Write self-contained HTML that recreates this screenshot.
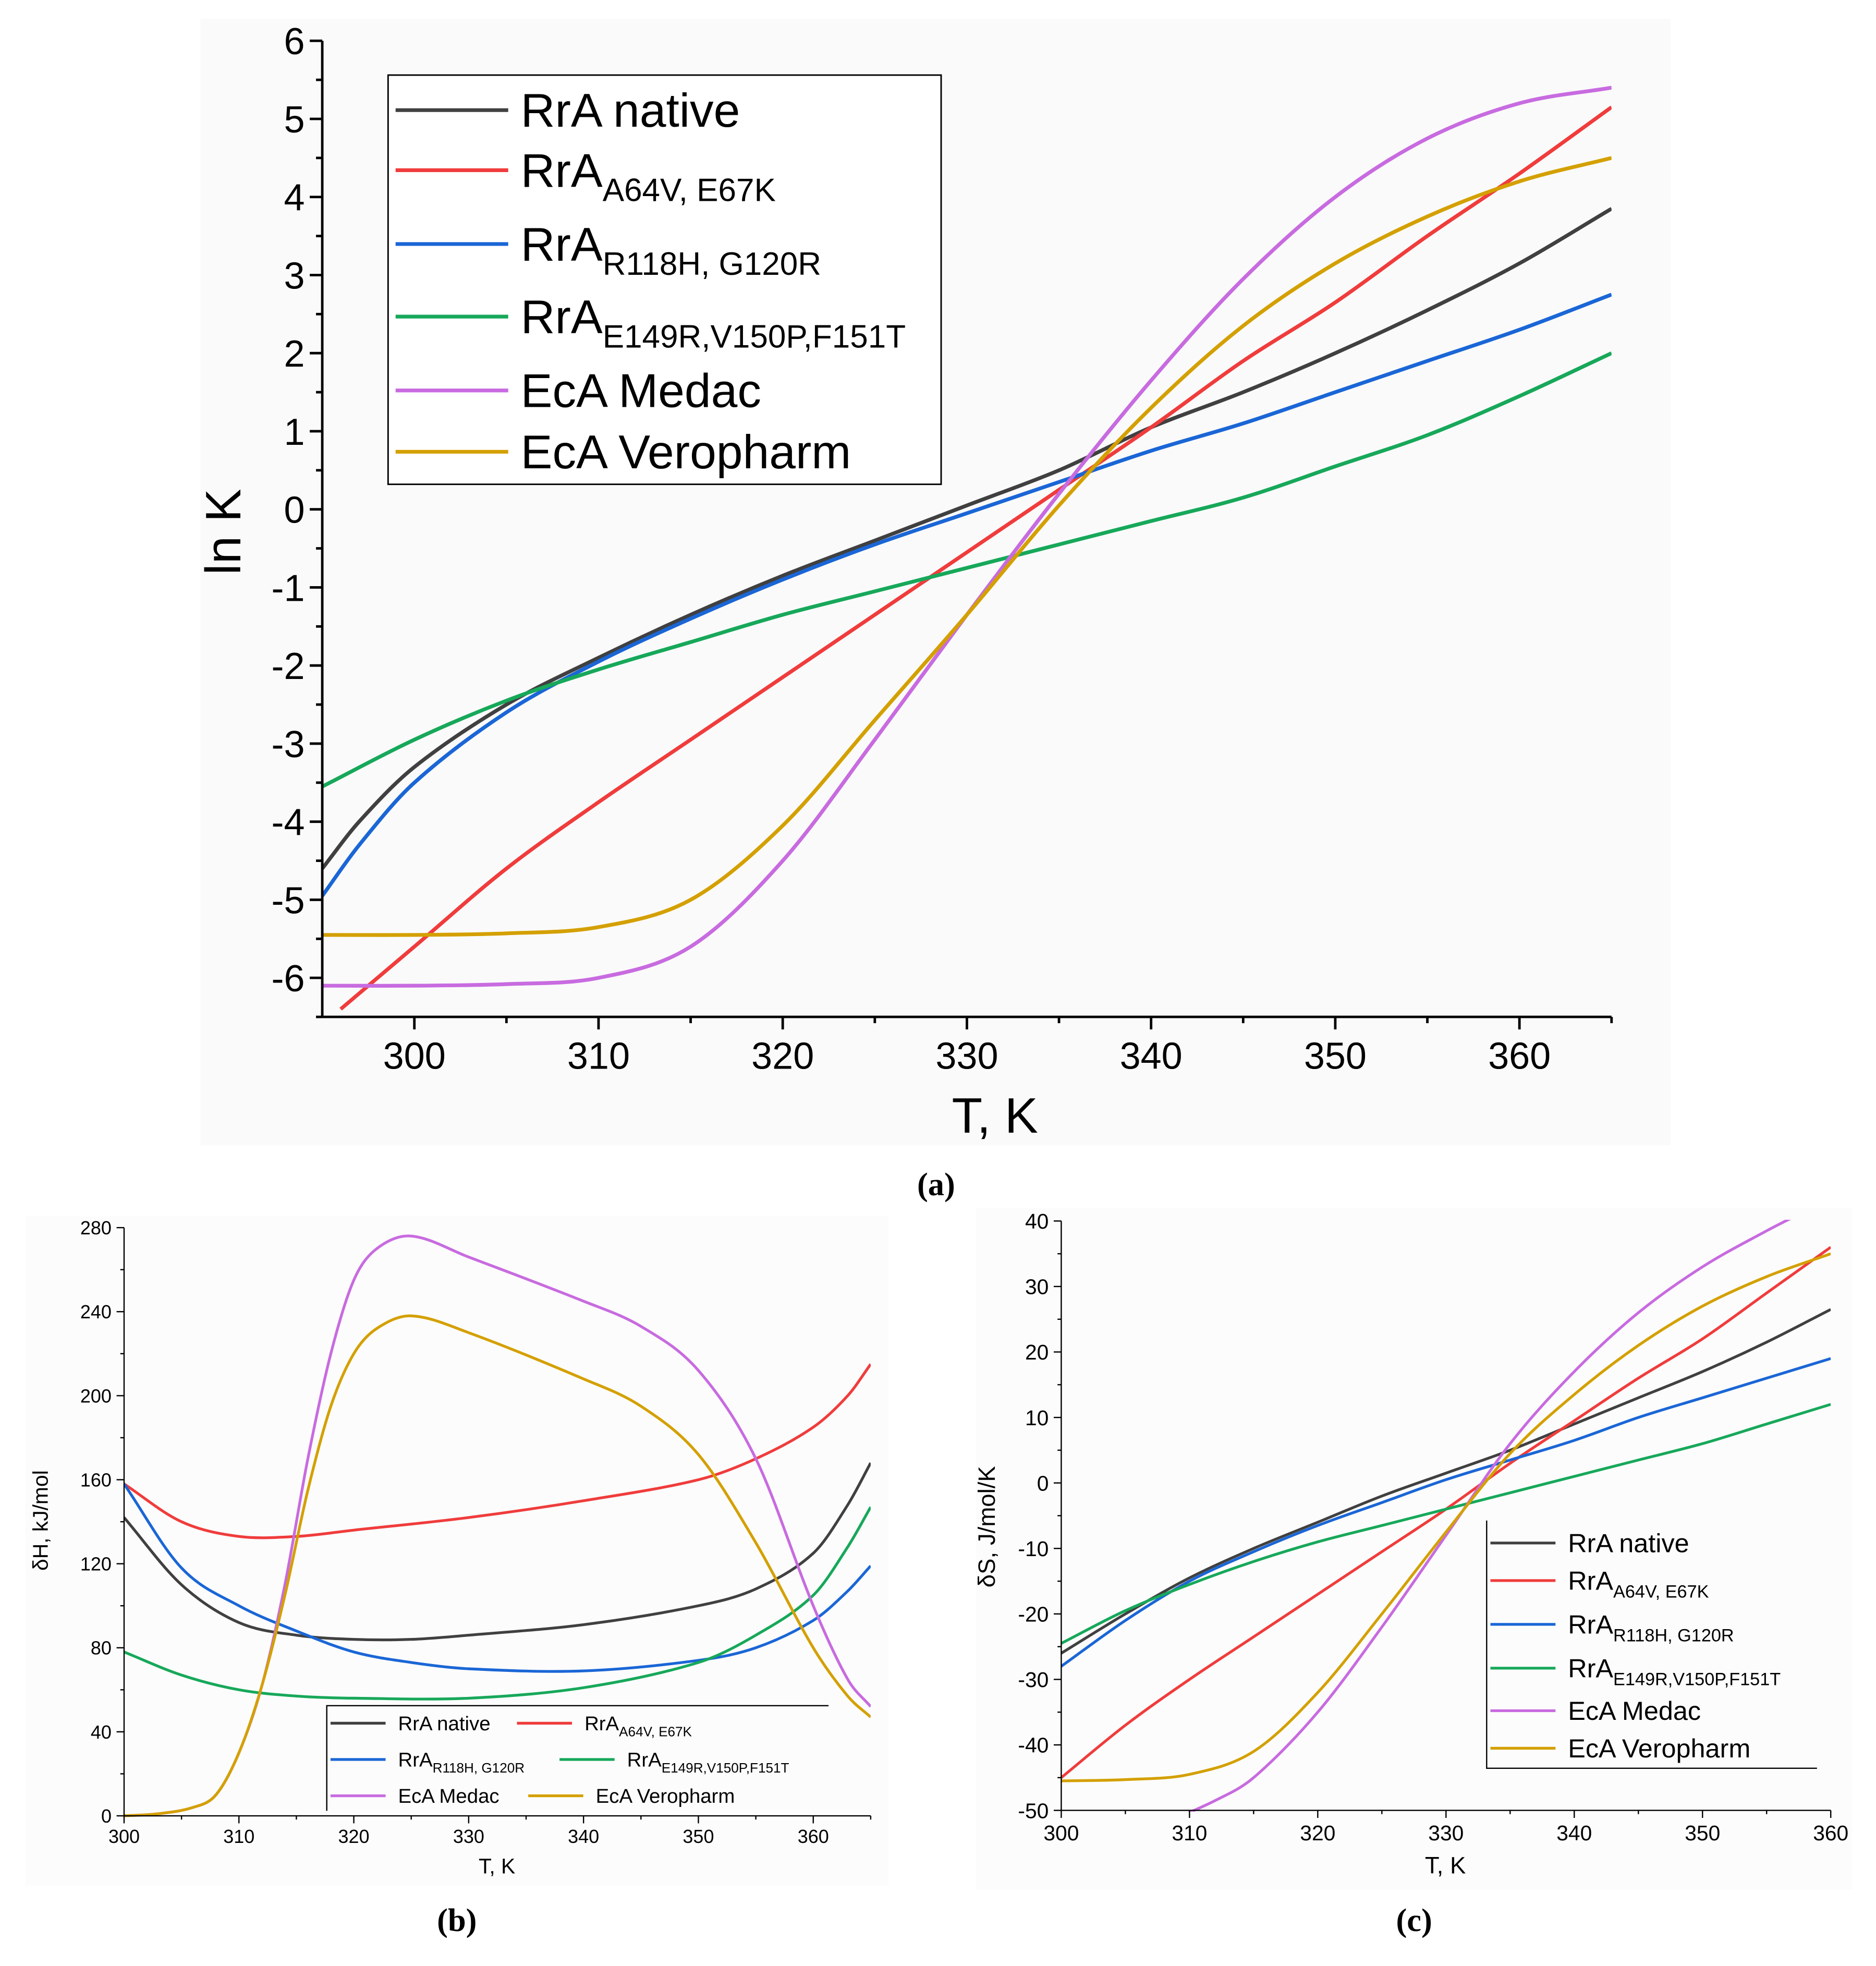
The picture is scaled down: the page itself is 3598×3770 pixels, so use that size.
<!DOCTYPE html>
<html><head><meta charset="utf-8">
<style>html,body{margin:0;padding:0;background:#fff}svg{display:block;font-family:"Liberation Sans",sans-serif}</style>
</head><body>
<svg id="root" width="3598" height="3770" viewBox="0 0 1499 1571" xmlns="http://www.w3.org/2000/svg">
<rect x="160" y="15" width="1175" height="900" fill="#fafafa"/>
<rect x="20" y="972" width="690" height="535" fill="#fcfcfc"/>
<rect x="780" y="965" width="700" height="545" fill="#fcfcfc"/>
<g id="g"></g>
<text x="748" y="955" font-family="Liberation Serif" font-weight="bold" font-size="26" text-anchor="middle">(a)</text>
<text x="365" y="1543" font-family="Liberation Serif" font-weight="bold" font-size="26" text-anchor="middle">(b)</text>
<text x="1130" y="1543" font-family="Liberation Serif" font-weight="bold" font-size="26" text-anchor="middle">(c)</text>
</svg>
<script>
// ---- Panel (a) data: ln K vs T ----
const aNativeT=[295,297,300,305,310,315,320,325,330,335,340,345,350,355,360,365];
const aNativeV=[-4.6,-4.0,-3.3,-2.5,-1.9,-1.35,-0.85,-0.4,0.05,0.5,1.05,1.5,2.0,2.55,3.15,3.85];
const aRedT=[296,300,305,310,315,320,325,330,335,340,345,350,355,360,365];
const aRedV=[-6.4,-5.6,-4.6,-3.75,-2.95,-2.15,-1.35,-0.55,0.25,1.05,1.9,2.65,3.5,4.3,5.15];
const aBlueT=[295,297,300,305,310,315,320,325,330,335,340,345,350,355,360,365];
const aBlueV=[-4.95,-4.3,-3.5,-2.6,-1.95,-1.4,-0.9,-0.45,-0.05,0.35,0.75,1.1,1.5,1.9,2.3,2.75];
const aGreenT=[295,300,305,310,315,320,325,330,335,340,345,350,355,360,365];
const aGreenV=[-3.55,-2.95,-2.45,-2.05,-1.7,-1.35,-1.05,-0.75,-0.45,-0.15,0.15,0.55,0.95,1.45,2.0];
const aMedacT=[295,300,305,310,315,320,325,330,335,340,345,350,355,360,365];
const aMedacV=[-6.1,-6.1,-6.08,-6.0,-5.6,-4.5,-2.95,-1.35,0.2,1.65,2.95,4.0,4.75,5.2,5.4];
const aVeroT=[295,300,305,310,315,320,325,330,335,340,345,350,355,360,365];
const aVeroV=[-5.45,-5.45,-5.43,-5.35,-5.0,-4.05,-2.7,-1.35,0.05,1.3,2.35,3.15,3.75,4.2,4.5];
const aXTicks=[300,310,320,330,340,350,360];
const aYTicks=[6,5,4,3,2,1,0,-1,-2,-3,-4,-5,-6];
// ---- Panel (b) data: dH vs T ----
const bNativeT=[300,305,310,315,320,325,330,340,350,355,360,363,365];
const bNativeV=[142,110,92,86,84,84,86,91,100,108,125,148,168];
const bRedT=[300,305,310,315,320,330,340,350,355,360,363,365];
const bRedV=[158,140,133,133,136,142,150,160,170,185,200,215];
const bBlueT=[300,305,310,315,320,325,330,340,350,355,360,363,365];
const bBlueV=[158,118,100,88,78,73,70,69,74,80,93,107,119];
const bGreenT=[300,305,310,315,320,330,340,350,355,360,363,365];
const bGreenV=[78,67,60,57,56,56,61,73,86,105,128,147];
const bMedacT=[300,303,306,308,310,312,314,316,318,320,322,325,330,340,345,350,355,360,363,365];
const bMedacV=[0,1,4,10,30,62,110,170,220,255,270,276,266,245,233,212,170,100,65,52];
const bVeroT=[300,303,306,308,310,312,314,316,318,320,322,325,330,340,345,350,355,360,363,365];
const bVeroV=[0,1,4,10,30,62,105,155,195,220,232,238,230,208,195,172,130,80,57,47];
const bXTicks=[300,310,320,330,340,350,360];
const bYTicks=[0,40,80,120,160,200,240,280];
// ---- Panel (c) data: dS vs T ----
const cNativeT=[300,305,310,315,320,325,330,335,340,345,350,355,360];
const cNativeV=[-26,-20,-14.5,-10,-6,-2,1.5,5,9,13,17,21.5,26.5];
const cRedT=[300,305,310,315,320,325,330,335,340,345,350,355,360];
const cRedV=[-45,-37,-30,-23.5,-17,-10.5,-4,3,9.5,16,22,29,36];
const cBlueT=[300,305,310,315,320,325,330,335,340,345,350,355,360];
const cBlueV=[-28,-21,-15,-10.5,-6.5,-3,0.5,3.5,6.5,10,13,16,19];
const cGreenT=[300,305,310,315,320,325,330,335,340,345,350,355,360];
const cGreenV=[-24.5,-19.5,-15.5,-12,-9,-6.5,-4,-1.5,1,3.5,6,9,12];
const cMedacT=[308,312,315,320,325,330,335,340,345,350,355,358];
const cMedacV=[-52,-48.5,-45,-35,-22,-8,6,17,26,33,38.5,41.5];
const cVeroT=[300,305,310,315,320,325,330,335,340,345,350,355,360];
const cVeroV=[-45.5,-45.3,-44.5,-41,-32,-20,-7.5,4.5,13.5,21,27,31.5,35];
const cXTicks=[300,310,320,330,340,350,360];
const cYTicks=[40,30,20,10,0,-10,-20,-30,-40,-50];

const COL={native:'#404040',red:'#f03c3c',blue:'#1a66d6',green:'#17a85a',medac:'#c86be0',vero:'#d4a000'};
const NS='http://www.w3.org/2000/svg';
const G=document.getElementById('g');
function el(tag,attrs,parent){const e=document.createElementNS(NS,tag);for(const k in attrs)e.setAttribute(k,attrs[k]);(parent||G).appendChild(e);return e;}
// cubic Hermite with non-uniform spacing (pixel coords, x strictly increasing)
function smooth(pts){
  const n=pts.length,m=[];
  for(let i=0;i<n;i++){
    if(i===0)m.push((pts[1][1]-pts[0][1])/(pts[1][0]-pts[0][0]));
    else if(i===n-1)m.push((pts[n-1][1]-pts[n-2][1])/(pts[n-1][0]-pts[n-2][0]));
    else m.push((pts[i+1][1]-pts[i-1][1])/(pts[i+1][0]-pts[i-1][0]));
  }
  let d='M'+pts[0][0]+','+pts[0][1];
  for(let i=0;i<n-1;i++){
    const h=pts[i+1][0]-pts[i][0];
    const c1=[pts[i][0]+h/3,pts[i][1]+m[i]*h/3],c2=[pts[i+1][0]-h/3,pts[i+1][1]-m[i+1]*h/3];
    d+=' C'+c1+' '+c2+' '+pts[i+1];
  }
  return d;
}

function panel(cfg){
  const sx=t=>cfg.x0+(t-cfg.t0)*cfg.kx, sy=v=>cfg.y0-(v-cfg.v0)*cfg.ky;
  const clipId='clip'+cfg.id;
  const cp=el('clipPath',{id:clipId});
  el('rect',{x:sx(cfg.tmin),y:sy(cfg.vmax)-1,width:sx(cfg.tmax)-sx(cfg.tmin),height:sy(cfg.vmin)-sy(cfg.vmax)+2},cp);
  for(const s of cfg.series){
    const p=el('path',{d:smooth(s.t.map((t,i)=>[sx(t),sy(s.v[i])])),fill:'none',stroke:s.c,'stroke-width':cfg.lw,'clip-path':'url(#'+clipId+')'});
    
    
  }
  const ax=el('line',{x1:sx(cfg.tmin),x2:sx(cfg.tmax),y1:sy(cfg.vmin),y2:sy(cfg.vmin),stroke:'#000','stroke-width':cfg.aw});
  
  
  const ay=el('line',{x1:sx(cfg.tmin),x2:sx(cfg.tmin),y1:sy(cfg.vmin),y2:sy(cfg.vmax),stroke:'#000','stroke-width':cfg.aw});
  
  
  for(const t of cfg.xt){
    el('line',{x1:sx(t),x2:sx(t),y1:sy(cfg.vmin),y2:sy(cfg.vmin)+cfg.tl,stroke:'#000','stroke-width':cfg.aw});
    el('line',{x1:sx(t+5),x2:sx(t+5),y1:sy(cfg.vmin),y2:sy(cfg.vmin)+cfg.tl/2,stroke:'#000','stroke-width':cfg.aw});
    const tx=el('text',{x:sx(t),y:sy(cfg.vmin)+cfg.tl+cfg.fs*1.05,'font-size':cfg.fs,'text-anchor':'middle'});
    tx.textContent=t;
    
    
  }
  const step=cfg.yt[1]-cfg.yt[0];
  for(const v of cfg.yt){
    el('line',{x1:sx(cfg.tmin)-cfg.tl,x2:sx(cfg.tmin),y1:sy(v),y2:sy(v),stroke:'#000','stroke-width':cfg.aw});
    const mm=v+step/2; if(mm>=cfg.vmin&&mm<=cfg.vmax) el('line',{x1:sx(cfg.tmin)-cfg.tl/2,x2:sx(cfg.tmin),y1:sy(mm),y2:sy(mm),stroke:'#000','stroke-width':cfg.aw});
    const ty=el('text',{x:sx(cfg.tmin)-cfg.tl-4,y:sy(v)+cfg.fs*0.36,'font-size':cfg.fs,'text-anchor':'end'});
    ty.textContent=v;
    
    
  }
  const xl=el('text',{x:cfg.xlx,y:cfg.xly,'font-size':cfg.tfs,'text-anchor':'middle'});xl.textContent='T, K';
  
  
  const yl=el('text',{x:0,y:0,'font-size':cfg.tfs,'text-anchor':'middle',transform:'translate('+cfg.ylx+','+cfg.yly+') rotate(-90)'});yl.textContent=cfg.ytitle;
  
  
}
function legendEntry(x,y,len,col,main,sub,fs,lw,name){
  el('line',{x1:x,x2:x+len,y1:y,y2:y,stroke:col,'stroke-width':lw});
  const t=el('text',{x:x+len+10,y:y+fs*0.35,'font-size':fs});
  
  
  t.appendChild(document.createTextNode(main));
  if(sub){const s=el('tspan',{'font-size':fs*0.68,dy:fs*0.3},t);s.textContent=sub;}
}
function S(n,t,v,c){return {n,t,v,c};}

panel({id:'a',x0:331,t0:300,kx:14.72,y0:407,v0:0,ky:62.4,tmin:295,tmax:365,vmin:-6.5,vmax:6,lw:3,aw:2,tl:10,fs:30,tfs:40,xt:aXTicks,yt:aYTicks,xlx:795,xly:905,ylx:192,yly:425,ytitle:'ln K',
 series:[S('native',aNativeT,aNativeV,COL.native),S('a64v',aRedT,aRedV,COL.red),S('r118h',aBlueT,aBlueV,COL.blue),S('e149r',aGreenT,aGreenV,COL.green),S('medac',aMedacT,aMedacV,COL.medac),S('veropharm',aVeroT,aVeroV,COL.vero)]});
const la=el('rect',{x:310,y:60,width:442,height:327,fill:'#fff',stroke:'#000','stroke-width':1.2});


legendEntry(316,88,90,COL.native,'RrA native','',38,3,'legend-entry-native');
legendEntry(316,136,90,COL.red,'RrA','A64V, E67K',38,3,'legend-entry-a64v');
legendEntry(316,195,90,COL.blue,'RrA','R118H, G120R',38,3,'legend-entry-r118h');
legendEntry(316,253,90,COL.green,'RrA','E149R,V150P,F151T',38,3,'legend-entry-e149r');
legendEntry(316,312,90,COL.medac,'EcA Medac','',38,3,'legend-entry-medac');
legendEntry(316,361,90,COL.vero,'EcA Veropharm','',38,3,'legend-entry-veropharm');

panel({id:'b',x0:99,t0:300,kx:9.18,y0:1451,v0:0,ky:1.6786,tmin:300,tmax:365,vmin:0,vmax:280,lw:2.2,aw:1,tl:6,fs:15,tfs:17,xt:bXTicks,yt:bYTicks,xlx:397,xly:1497,ylx:38,yly:1215,ytitle:'δH, kJ/mol',
 series:[S('native',bNativeT,bNativeV,COL.native),S('a64v',bRedT,bRedV,COL.red),S('r118h',bBlueT,bBlueV,COL.blue),S('e149r',bGreenT,bGreenV,COL.green),S('medac',bMedacT,bMedacV,COL.medac),S('veropharm',bVeroT,bVeroV,COL.vero)]});
const lb=el('path',{d:'M261,1447 V1363 H662',fill:'none',stroke:'#000','stroke-width':1});


legendEntry(264,1377,44,COL.native,'RrA native','',16,2.2,'b-legend-native');
legendEntry(413,1377,44,COL.red,'RrA','A64V, E67K',16,2.2,'b-legend-a64v');
legendEntry(264,1406,44,COL.blue,'RrA','R118H, G120R',16,2.2,'b-legend-r118h');
legendEntry(447,1406,44,COL.green,'RrA','E149R,V150P,F151T',16,2.2,'b-legend-e149r');
legendEntry(264,1435,44,COL.medac,'EcA Medac','',16,2.2,'b-legend-medac');
legendEntry(422,1435,44,COL.vero,'EcA Veropharm','',16,2.2,'b-legend-veropharm');

panel({id:'c',x0:848,t0:300,kx:10.25,y0:1185,v0:0,ky:5.233,tmin:300,tmax:360,vmin:-50,vmax:40,lw:2.2,aw:1,tl:6,fs:17,tfs:19,xt:cXTicks,yt:cYTicks,xlx:1155,xly:1497,ylx:795,yly:1220,ytitle:'δS, J/mol/K',
 series:[S('native',cNativeT,cNativeV,COL.native),S('a64v',cRedT,cRedV,COL.red),S('r118h',cBlueT,cBlueV,COL.blue),S('e149r',cGreenT,cGreenV,COL.green),S('medac',cMedacT,cMedacV,COL.medac),S('veropharm',cVeroT,cVeroV,COL.vero)]});
const lc=el('path',{d:'M1188,1215 V1413 H1452',fill:'none',stroke:'#000','stroke-width':1});


legendEntry(1191,1233,52,COL.native,'RrA native','',21,2.2,'c-legend-native');
legendEntry(1191,1263,52,COL.red,'RrA','A64V, E67K',21,2.2,'c-legend-a64v');
legendEntry(1191,1298,52,COL.blue,'RrA','R118H, G120R',21,2.2,'c-legend-r118h');
legendEntry(1191,1333,52,COL.green,'RrA','E149R,V150P,F151T',21,2.2,'c-legend-e149r');
legendEntry(1191,1367,52,COL.medac,'EcA Medac','',21,2.2,'c-legend-medac');
legendEntry(1191,1397,52,COL.vero,'EcA Veropharm','',21,2.2,'c-legend-veropharm');
</script>
</body></html>
